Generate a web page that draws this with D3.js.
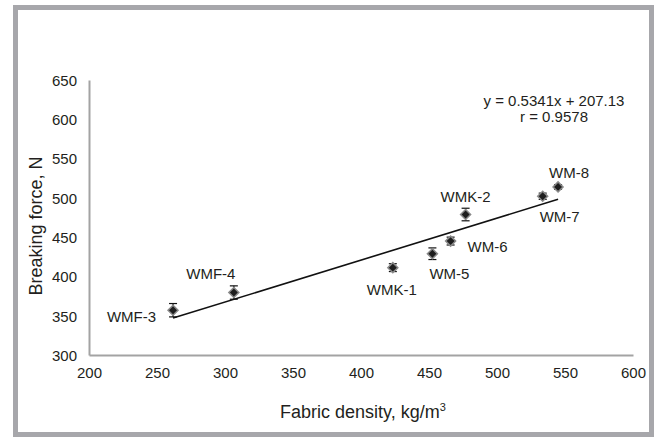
<!DOCTYPE html>
<html>
<head>
<meta charset="utf-8">
<script src="https://cdn.jsdelivr.net/npm/d3@7"></script>
<style>
  html, body { margin: 0; padding: 0; background: #ffffff; }
  svg { display: block; font-family: "Liberation Sans", Arial, Helvetica, sans-serif; }
</style>
</head>
<body>
<svg id="chart" width="654" height="437"></svg>
<script>
// ---- Data ----
const names    = ["WMF-3", "WMF-4", "WMK-1", "WM-5", "WM-6", "WMK-2", "WM-7", "WM-8"];
const density  = [261.8, 306.5, 423.4, 452.5, 465.9, 476.9, 533.6, 544.9];
const force    = [357, 379.5, 411.2, 428.9, 445, 478.8, 502, 513.9];
const forceErr = [8.5, 8.5, 5, 7.4, 5, 8, 4, 3];
const xTicks   = [200, 250, 300, 350, 400, 450, 500, 550, 600];
const yTicks   = [300, 350, 400, 450, 500, 550, 600, 650];
const fitSlope = 0.5341;
const fitIntercept = 207.13;
const eqLines  = ["y = 0.5341x + 207.13", "r = 0.9578"];

// ---- Layout (label placement relative to each point, in pixels) ----
const labelLayout = {
  "WMF-3": { dx: -17, dy: 12,   anchor: "end" },
  "WMF-4": { dx: -23, dy: -13.5, anchor: "middle" },
  "WMK-1": { dx: -1,  dy: 27,   anchor: "middle" },
  "WM-5":  { dx: 17,  dy: 25,   anchor: "middle" },
  "WM-6":  { dx: 17,  dy: 11,   anchor: "start" },
  "WMK-2": { dx: 0,   dy: -12.5, anchor: "middle" },
  "WM-7":  { dx: 17,  dy: 26,   anchor: "middle" },
  "WM-8":  { dx: 11,  dy: -9,   anchor: "middle" }
};

const svg = d3.select("#chart");
const textColor = "#231f20";
const axisColor = "#a3a3a3";

// Outer frame
svg.append("rect")
  .attr("x", 15.5).attr("y", 7.5)
  .attr("width", 636).attr("height", 427)
  .attr("fill", "#ffffff")
  .attr("stroke", "#a7a7ab").attr("stroke-width", 5);

const x = d3.scaleLinear().domain([200, 600]).range([89, 633]);
const y = d3.scaleLinear().domain([300, 650]).range([355, 80]);

// Axes (no tick marks, grey domain lines)
const xAxis = svg.append("g").attr("transform", `translate(0,${y(300)})`)
  .call(d3.axisBottom(x).tickValues(xTicks).tickSize(0).tickPadding(0).tickFormat(d3.format("d")));
xAxis.select(".domain").attr("stroke", axisColor).attr("stroke-width", 2);
xAxis.selectAll("text")
  .attr("fill", textColor).attr("font-size", 15)
  .attr("dy", null).attr("y", 23);

const yAxis = svg.append("g").attr("transform", `translate(${x(200)},0)`)
  .call(d3.axisLeft(y).tickValues(yTicks).tickSize(0).tickPadding(12).tickFormat(d3.format("d")));
yAxis.select(".domain").attr("stroke", axisColor).attr("stroke-width", 2);
yAxis.selectAll("text")
  .attr("fill", textColor).attr("font-size", 15)
  .attr("dy", "0.36em");

// Axis titles
const xTitle = svg.append("text")
  .attr("x", 363).attr("y", 418)
  .attr("text-anchor", "middle")
  .attr("fill", textColor).attr("font-size", 18);
xTitle.append("tspan").text("Fabric density, kg/m");
xTitle.append("tspan").text("3").attr("font-size", 11).attr("dy", -7);

svg.append("text")
  .attr("transform", `translate(42,226) rotate(-90)`)
  .attr("text-anchor", "middle")
  .attr("fill", textColor).attr("font-size", 18)
  .text("Breaking force, N");

// Trend line
const xMin = d3.min(density), xMax = d3.max(density);
svg.append("line")
  .attr("x1", x(xMin)).attr("y1", y(fitSlope * xMin + fitIntercept))
  .attr("x2", x(xMax)).attr("y2", y(fitSlope * xMax + fitIntercept))
  .attr("stroke", "#111").attr("stroke-width", 1.6);

// Points
const pts = names.map((n, i) => ({ name: n, x: density[i], y: force[i], e: forceErr[i] }));
const g = svg.append("g");

// Error bars
pts.forEach(p => {
  const cx = x(p.x);
  const eb = g.append("g").attr("stroke", "#111").attr("stroke-width", 1.2);
  eb.append("line").attr("x1", cx).attr("x2", cx).attr("y1", y(p.y - p.e)).attr("y2", y(p.y + p.e));
  eb.append("line").attr("x1", cx - 4).attr("x2", cx + 4).attr("y1", y(p.y + p.e)).attr("y2", y(p.y + p.e));
  eb.append("line").attr("x1", cx - 4).attr("x2", cx + 4).attr("y1", y(p.y - p.e)).attr("y2", y(p.y - p.e));
});

// Diamond markers
const sym = d3.symbol().type(d3.symbolSquare).size(50);
g.selectAll("path.pt").data(pts).enter().append("path")
  .attr("class", "pt")
  .attr("d", sym)
  .attr("transform", d => `translate(${x(d.x)},${y(d.y)}) rotate(45)`)
  .attr("fill", "#1e1e1e")
  .attr("stroke", "#8a8a8a").attr("stroke-width", 1.5);

// Point labels
g.selectAll("text.lbl").data(pts).enter().append("text")
  .attr("class", "lbl")
  .attr("x", d => x(d.x) + labelLayout[d.name].dx)
  .attr("y", d => y(d.y) + labelLayout[d.name].dy)
  .attr("text-anchor", d => labelLayout[d.name].anchor)
  .attr("fill", textColor).attr("font-size", 15)
  .text(d => d.name);

// Equation
svg.append("g").selectAll("text").data(eqLines).enter().append("text")
  .attr("x", 554).attr("y", (d, i) => 106 + i * 16)
  .attr("text-anchor", "middle")
  .attr("fill", textColor).attr("font-size", 15)
  .text(d => d);
</script>
</body>
</html>
